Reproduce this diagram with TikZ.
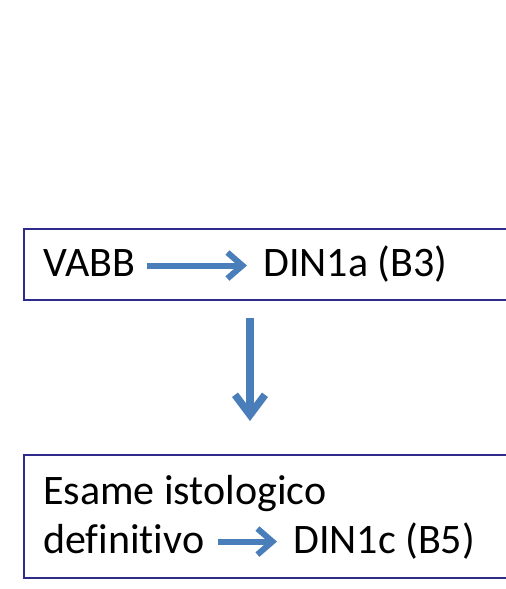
\documentclass[tikz,border=0pt]{standalone}
\usepackage{fontspec}
\setmainfont{Carlito}[Ligatures=NoCommon]
\usepackage{tikz}
\usetikzlibrary{arrows.meta,calc}
\definecolor{framecol}{HTML}{2E2B8A}
\definecolor{arrcol}{HTML}{4A7EBB}

\begin{document}
\begin{tikzpicture}[x=1pt, y=-1pt, box/.style={draw=framecol, line width=1.6pt, rectangle, anchor=north west, minimum width=540pt, inner sep=0pt}, txt/.style={anchor=base west, inner sep=0pt, font=\fontsize{42}{48}\selectfont}, arr/.style={draw=arrcol, line width=6pt, -{Straight Barb[length=15pt, width=26pt]}}, bigarr/.style={draw=arrcol, line width=7.5pt, -{Straight Barb[length=20pt, width=30pt]}}]
\clip (0,0) rectangle (506,589);
\node[box, minimum height=71pt] (top) at (23,228) {};
\node[box, minimum height=123pt] (bot) at (23,454) {};
\node[txt] (vabb) at (43,276) {VABB};
\node[txt] (din1a) at (263,276) {DIN1a (B3)};
\node[txt] (esame) at (43,504) {Esame istologico};
\node[txt] (defin) at (43,553) {definitivo};
\node[txt] (din1c) at (293,553) {DIN1c (B5)};
\coordinate (a) at (250,318);
\coordinate (b) at (250,421);
\draw[arr] ([xshift=12pt, yshift=-3pt]vabb.east) -- ([xshift=-16pt, yshift=-3pt]vabb.east -| din1a.west);
\draw[arr] ([xshift=13pt, yshift=-3pt]defin.east) -- ([xshift=-16pt, yshift=-3pt]defin.east -| din1c.west);
\draw[bigarr] (a) -- (b);
\end{tikzpicture}
\end{document}
